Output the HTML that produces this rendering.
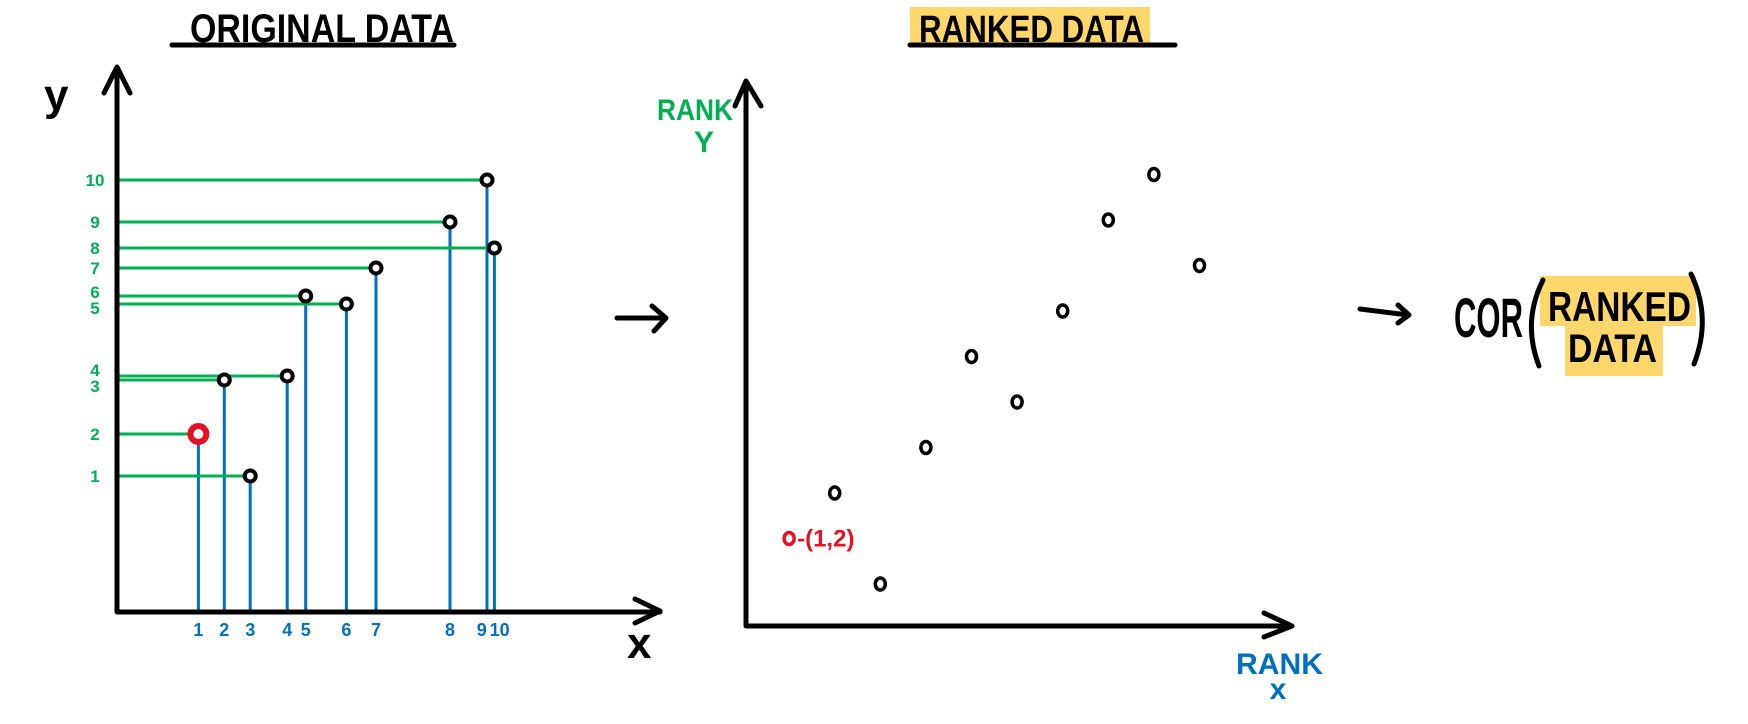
<!DOCTYPE html>
<html><head><meta charset="utf-8"><style>
html,body{margin:0;padding:0;background:#fff;width:1748px;height:724px;overflow:hidden}
svg{display:block}
text{font-family:"Liberation Sans",sans-serif;font-weight:bold}
</style></head><body>
<svg id="c" width="1748" height="724" viewBox="0 0 1748 724">
 <g>
  <text x="190" y="42" font-size="40" textLength="264" lengthAdjust="spacingAndGlyphs" fill="#000">ORIGINAL DATA</text>
  <line x1="172" y1="45" x2="454" y2="45" stroke="#000" stroke-width="5" stroke-linecap="round"/>
 </g>
 <g>
  <rect x="910" y="7" width="240" height="37" fill="#fdd76b"/>
  <text x="919" y="42" font-size="38" textLength="225" lengthAdjust="spacingAndGlyphs" fill="#000">RANKED DATA</text>
  <line x1="910" y1="45" x2="1175" y2="45" stroke="#000" stroke-width="5" stroke-linecap="round"/>
 </g>
 <g id="orig"></g>
 <g id="rank"></g>
 <g stroke="#000" stroke-width="5" fill="none" stroke-linecap="round" stroke-linejoin="round">
  <path d="M617 318 L665 318 M652 306 L666 318 L654 331"/>
 </g>
 <g stroke="#000" stroke-width="5" fill="none" stroke-linecap="round" stroke-linejoin="round">
  <path d="M1360 309 L1408 315 M1398 305 L1409 315 L1398 323"/>
 </g>
 <g>
  <rect x="1540" y="276" width="156" height="50" fill="#fdd76b"/>
  <rect x="1565" y="323" width="98" height="53" fill="#fdd76b"/>
  <text x="1454" y="337" font-size="56" textLength="69" lengthAdjust="spacingAndGlyphs" fill="#000" font-weight="normal">COR</text>
  <path d="M1543 280 Q1522 322 1539 366" stroke="#000" stroke-width="5" fill="none" stroke-linecap="round"/>
  <path d="M1691 274 Q1712 318 1694 364" stroke="#000" stroke-width="5" fill="none" stroke-linecap="round"/>
  <text x="1548" y="321" font-size="42" textLength="143" lengthAdjust="spacingAndGlyphs" fill="#000">RANKED</text>
  <text x="1568" y="362" font-size="40" textLength="89" lengthAdjust="spacingAndGlyphs" fill="#000">DATA</text>
 </g>
</svg>
<script>
// Original data (raw values, arbitrary units)
const origX = [2.2, 2.9, 3.6, 4.6, 5.1, 6.2, 7.0, 9.0, 10.0, 10.2];
const origY = [4.45, 5.8, 3.4, 5.9, 7.9, 7.7, 8.6, 9.75, 10.8, 9.1];
const xRanks = [1,2,3,4,5,6,7,8,9,10];
const yRanks = [2,3,1,4,6,5,7,9,10,8];
const highlightIndex = [0];

const NS = 'http://www.w3.org/2000/svg';
function mk(tag, attrs, parent){const e=document.createElementNS(NS,tag);for(const k in attrs)e.setAttribute(k,attrs[k]);parent.appendChild(e);return e;}
const GREEN='#00b050', BLUE='#0070c0', RED='#e81123';

// ---- Original chart ----
const og=document.getElementById('orig');
const ox0=117, oy0=612;
const oxs=v=>ox0+v*37;
const oys=v=>oy0-v*40;

// label placement with simple de-overlap
const yLab = origY.map((v,i)=>({i, p:oys(v)})).sort((a,b)=>b.p-a.p);
for(let k=1;k<yLab.length;k++){ if(yLab[k-1].p-yLab[k].p<16){ const m=(yLab[k-1].p+yLab[k].p)/2; yLab[k-1].p=m+8; yLab[k].p=m-8; } }
const yPos={}; yLab.forEach(o=>yPos[o.i]=o.p);
const xLab = origX.map((v,i)=>({i, p:oxs(v)})).sort((a,b)=>a.p-b.p);
for(let k=1;k<xLab.length;k++){ if(xLab[k].p-xLab[k-1].p<16){ const m=(xLab[k-1].p+xLab[k].p)/2; xLab[k-1].p=m-9; xLab[k].p=m+9; } }
const xPos={}; xLab.forEach(o=>xPos[o.i]=o.p);

origX.forEach((xv,i)=>{
  const px=oxs(xv), py=oys(origY[i]);
  const h=mk('line',{x1:ox0,y1:py,x2:px,y2:py,stroke:GREEN,'stroke-width':3},og);
  
  
  const v=mk('line',{x1:px,y1:py,x2:px,y2:oy0,stroke:BLUE,'stroke-width':3},og);
  
  
  const yl=mk('text',{x:95,y:yPos[i]+6,'font-size':17,fill:GREEN,'text-anchor':'middle','font-weight':'normal'},og);
  yl.textContent=yRanks[i];
  
  
  const xl=mk('text',{x:xPos[i],y:oy0+24,'font-size':18,fill:BLUE,'text-anchor':'middle','font-weight':'normal'},og);
  xl.textContent=xRanks[i];
  
  
});
origX.forEach((xv,i)=>{
  const red=highlightIndex.includes(i);
  const c=mk('circle',{cx:oxs(xv),cy:oys(origY[i]),r:red?8:5.5,fill:'#fff',stroke:red?RED:'#000','stroke-width':red?6:4},og);
  
  
});
const oax=mk('path',{d:'M117 67 L117 612 L660 612 M104 93 L117 67 L130 93 M635 599 L660 611 L635 623',stroke:'#000','stroke-width':5,fill:'none','stroke-linecap':'round','stroke-linejoin':'round'},og);


const ylab=mk('text',{x:44,y:110,'font-size':44,fill:'#000'},og);ylab.textContent='y';


const xlab=mk('text',{x:627,y:658,'font-size':44,fill:'#000'},og);xlab.textContent='x';



// ---- Ranked chart ----
const rg=document.getElementById('rank');
const rxs=r=>743.5+45.6*r;
const rys=r=>629.5-45.5*r;
xRanks.forEach((xr,i)=>{
  const red=highlightIndex.includes(i);
  const c=mk('ellipse',{cx:rxs(xr),cy:rys(yRanks[i]),rx:5,ry:6,fill:'#fff',stroke:red?RED:'#000','stroke-width':3.5},rg);
  
  
  if(red){
    const t=mk('text',{x:rxs(xr)+8,y:rys(yRanks[i])+8,'font-size':24,fill:RED,'font-weight':'normal'},rg);
    t.textContent='-(1,2)';
    
    
  }
});
const rax=mk('path',{d:'M746 81 L746 626 L1292 626 M735 106 L746 81 L761 106 M1264 613 L1292 626 L1264 637',stroke:'#000','stroke-width':5,fill:'none','stroke-linecap':'round','stroke-linejoin':'round'},rg);


const ry1=mk('text',{x:657,y:120,'font-size':30,fill:GREEN,textLength:76,lengthAdjust:'spacingAndGlyphs'},rg);ry1.textContent='RANK';


const ry2=mk('text',{x:704,y:152,'font-size':30,fill:GREEN,'text-anchor':'middle'},rg);ry2.textContent='Y';


const rx1=mk('text',{x:1236,y:674,'font-size':30,fill:BLUE,textLength:87,lengthAdjust:'spacingAndGlyphs'},rg);rx1.textContent='RANK';


const rx2=mk('text',{x:1278,y:699,'font-size':30,fill:BLUE,'text-anchor':'middle'},rg);rx2.textContent='x';


</script>
</body></html>
